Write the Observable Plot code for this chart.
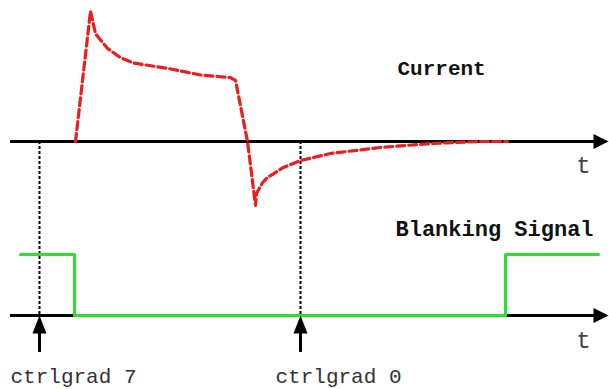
<!DOCTYPE html>
<html>
<head>
<meta charset="utf-8">
<script src="https://cdn.jsdelivr.net/npm/d3@7"></script>
<script src="https://cdn.jsdelivr.net/npm/@observablehq/plot@0.6"></script>
<style>
  html, body { margin: 0; padding: 0; background: #fff; }
  #chart svg { display: block; }
</style>
</head>
<body>
<div id="chart"></div>
<script>
// ---- data (time in arbitrary units, current normalised to peak) ----
const currentT   = [75, 90, 95, 107, 120, 133, 167, 200, 230, 235, 247, 255, 256, 262, 267, 283, 300, 330, 380, 430, 480, 507];
const currentAmp = [0, 0.98, 0.81, 0.70, 0.63, 0.59, 0.55, 0.50, 0.48, 0.46, 0, -0.48, -0.39, -0.31, -0.27, -0.195, -0.143, -0.09, -0.045, -0.015, 0, 0];

const blankT     = [20, 74, 505, 598];
const blankLevel = [1, 0, 1, 1];

const markerT      = [39, 300];
const markerLabels = ["ctrlgrad 7", "ctrlgrad 0"];
const labelT       = [10, 275];

const signalNames  = ["Current", "Blanking Signal"];

// ---- layout constants ----
const currentBase = 0;       // level of current time axis
const blankBase = -1.308;    // level of blanking time axis
const blankScale = 0.4586;   // height of blanking pulse
const axisStart = 10, axisEnd = 596, arrowT = 600.5;
const font = "'Liberation Mono', 'Courier New', monospace";

const currentData = currentT.map((t, i) => ({t, v: currentBase + currentAmp[i]}));
const blankData = blankT.map((t, i) => ({t, v: blankBase + blankScale * blankLevel[i]}));

const arrowRight = {draw(ctx, size) {
  const s = Math.sqrt(size / Math.PI);
  ctx.moveTo(s, 0); ctx.lineTo(-s, -s); ctx.lineTo(-s, s); ctx.closePath();
}};
const arrowUp = {draw(ctx, size) {
  const s = Math.sqrt(size / Math.PI);
  ctx.moveTo(0, -s); ctx.lineTo(0.78 * s, s); ctx.lineTo(-0.78 * s, s); ctx.closePath();
}};

const chart = Plot.plot({
  width: 609,
  height: 389,
  margin: 0,
  x: {domain: [0, 609], axis: null},
  y: {domain: [-1.8647, 1.0602], axis: null},
  marks: [
    // dotted marker lines
    Plot.ruleX(markerT, {x: d => d, y1: currentBase, y2: blankBase, stroke: "#000", strokeWidth: 2, strokeDasharray: "3,2"}),
    // time axes
    Plot.ruleY([currentBase, blankBase], {x1: axisStart, x2: axisEnd, stroke: "#000", strokeWidth: 3}),
    Plot.dot([currentBase, blankBase], {x: arrowT, y: d => d, r: 7.5, symbol: arrowRight, fill: "#000", stroke: null}),
    Plot.text([currentBase - 0.18, blankBase - 0.188], {x: 583, y: d => d, text: () => "t", fontFamily: font, fontSize: 24, fill: "#444"}),
    // signals
    Plot.line(currentData, {x: "t", y: "v", stroke: "#ee1c1c", strokeWidth: 3.2, strokeDasharray: "8,4", curve: "linear"}),
    Plot.line(blankData, {x: "t", y: "v", stroke: "#2ee02e", strokeWidth: 3, curve: "step-after"}),
    // up arrows
    Plot.ruleX(markerT, {x: d => d, y1: -1.586, y2: -1.40, stroke: "#000", strokeWidth: 3}),
    Plot.dot(markerT, {x: d => d, y: -1.376, r: 9, symbol: arrowUp, fill: "#000", stroke: null}),
    // labels
    Plot.text(markerLabels, {x: (d, i) => labelT[i], y: -1.768, text: d => d, textAnchor: "start", fontFamily: font, fontSize: 21, fill: "#333"}),
    Plot.text(signalNames, {x: (d, i) => [397, 395][i], y: (d, i) => [0.549, -0.654][i], text: d => d, textAnchor: "start", fontFamily: font, fontWeight: "bold", fontSize: (d, i) => [21, 22][i], fill: "#111"})
  ]
});
document.getElementById("chart").appendChild(chart);
</script>
</body>
</html>
